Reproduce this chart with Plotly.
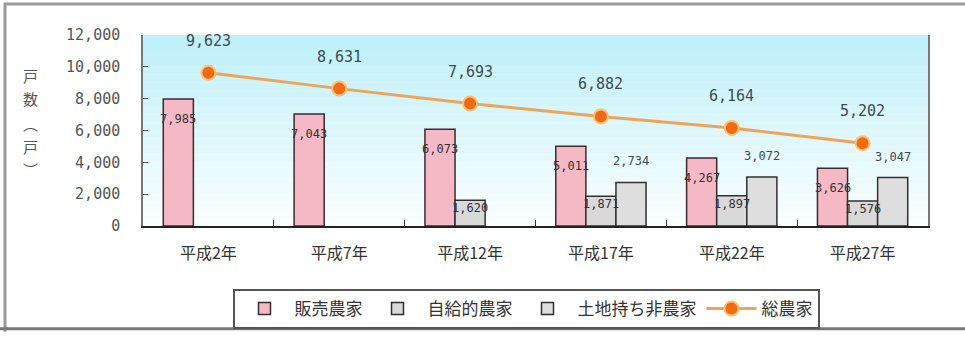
import plotly.graph_objects as go

# 農家数の推移（戸）
years = ["平成2年", "平成7年", "平成12年", "平成17年", "平成22年", "平成27年"]
sales_farms = [7985, 7043, 6073, 5011, 4267, 3626]          # 販売農家
self_sufficient = [None, None, 1620, 1871, 1897, 1576]       # 自給的農家
landowners = [None, None, None, 2734, 3072, 3047]            # 土地持ち非農家
total_farms = [9623, 8631, 7693, 6882, 6164, 5202]           # 総農家
y_ticks = [0, 2000, 4000, 6000, 8000, 10000, 12000]
y_title_chars = ["戸", "数", "︵", "戸", "︶"]                # 縦書きの軸タイトル

NUM_FONT = "DejaVu Sans Mono, Noto Sans CJK JP"
JP_FONT = "Noto Sans CJK JP, Noto Sans CJK SC"

W, H = 965, 341
ML, MR, MT, MB = 143, 37, 35, 109
PW, PH = W - ML - MR, H - MT - MB


def px_x(px):
    return (px - ML) / PW


def px_y(py):
    return (H - MB - py) / PH


fig = go.Figure()

fig.add_trace(go.Bar(
    x=years, y=sales_farms, name="販売農家",
    marker=dict(color="#f5b9c6", line=dict(color="#3a2a30", width=1.5)),
))
fig.add_trace(go.Bar(
    x=years, y=self_sufficient, name="自給的農家",
    marker=dict(color="#d9d9d9", line=dict(color="#303030", width=1.5)),
))
fig.add_trace(go.Bar(
    x=years, y=landowners, name="土地持ち非農家",
    marker=dict(color="#dedede", line=dict(color="#303030", width=1.5)),
))
fig.add_trace(go.Scatter(
    x=years, y=total_farms, name="総農家", mode="lines+markers",
    line=dict(color="#eea55a", width=3),
    marker=dict(color="#f26a12", size=14, line=dict(color="#fbc070", width=2)),
))

# data labels
group_shift = 30  # px between bars in a group
anns = []
for i, cat in enumerate(years):
    anns.append(dict(x=cat, y=total_farms[i], text=f"{total_farms[i]:,}",
                     showarrow=False, yshift=32,
                     font=dict(family=NUM_FONT, size=15, color="#3d4b52")))
    anns.append(dict(x=cat, y=sales_farms[i], text=f"{sales_farms[i]:,}",
                     showarrow=False, yshift=-20, xshift=-group_shift,
                     font=dict(family=NUM_FONT, size=12, color="#333")))
    if self_sufficient[i] is not None:
        anns.append(dict(x=cat, y=self_sufficient[i], text=f"{self_sufficient[i]:,}",
                         showarrow=False, yshift=-8,
                         font=dict(family=NUM_FONT, size=12, color="#333")))
    if landowners[i] is not None:
        anns.append(dict(x=cat, y=landowners[i], text=f"{landowners[i]:,}",
                         showarrow=False, yshift=21, xshift=group_shift,
                         font=dict(family=NUM_FONT, size=12, color="#3d4b52")))

# vertical axis title, one character per row
title_rows = [77, 101, 126, 150, 174]
for ch, row in zip(y_title_chars, title_rows):
    anns.append(dict(xref="paper", yref="paper", x=px_x(30), y=px_y(row),
                     xanchor="center", yanchor="middle",
                     text=ch, showarrow=False,
                     font=dict(family=JP_FONT, size=15, color="#555")))

# plot background gradient (light cyan at top to white at bottom)
shapes = []
n = 24
for k in range(n):
    t = k / (n - 1)
    r = int(190 + (250 - 190) * t)
    g = int(241 + (254 - 241) * t)
    b = int(250 + (255 - 250) * t)
    shapes.append(dict(type="rect", xref="paper", yref="paper",
                       x0=0, x1=1, y0=1 - (k + 1) / n, y1=1 - k / n,
                       fillcolor=f"rgb({r},{g},{b})", line=dict(width=0),
                       layer="below"))

# outer frame lines
frame_col = "#9a9a9a"
shapes += [
    dict(type="line", xref="paper", yref="paper", x0=px_x(4), x1=px_x(965),
         y0=px_y(3), y1=px_y(3), line=dict(color=frame_col, width=3)),
    dict(type="line", xref="paper", yref="paper", x0=px_x(5), x1=px_x(5),
         y0=px_y(2), y1=px_y(341), line=dict(color=frame_col, width=3)),
    dict(type="line", xref="paper", yref="paper", x0=px_x(0), x1=px_x(965),
         y0=px_y(338), y1=px_y(338), line=dict(color="#777", width=3)),
]

fig.update_layout(
    width=W, height=H,
    margin=dict(l=ML, r=MR, t=MT, b=MB),
    paper_bgcolor="white", plot_bgcolor="white",
    barmode="group", bargap=0.31, bargroupgap=0,
    showlegend=True,
    legend=dict(orientation="h", xanchor="center", yanchor="top",
                x=px_x(526), y=px_y(297),
                bordercolor="#555", borderwidth=2, bgcolor="white",
                font=dict(family=JP_FONT, size=17, color="#333"),
                itemwidth=50, tracegroupgap=0),
    annotations=anns,
    shapes=shapes,
    xaxis=dict(
        type="category", showgrid=False,
        showline=True, linecolor="#222", linewidth=2, mirror=False,
        ticks="inside", tickson="boundaries", ticklen=6, tickcolor="#333",
        tickfont=dict(family=JP_FONT, size=16, color="#333"),
        ticklabelstandoff=12,
    ),
    yaxis=dict(
        range=[0, 12000], tickvals=y_ticks,
        ticktext=[f"{v:,}" for v in y_ticks],
        showgrid=False, zeroline=False,
        showline=True, linecolor="#777", linewidth=1.5, mirror=True,
        ticks="inside", ticklen=5, tickcolor="#555",
        tickfont=dict(family=NUM_FONT, size=15, color="#555"),
        ticklabelstandoff=18,
    ),
)

fig.write_html("out.html")
